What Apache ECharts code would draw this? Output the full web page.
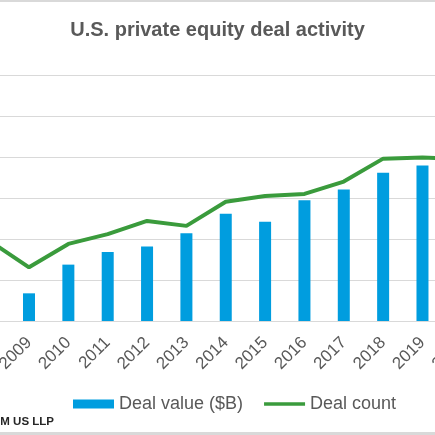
<!DOCTYPE html>
<html>
<head>
<meta charset="utf-8">
<script src="https://cdn.jsdelivr.net/npm/echarts@6/dist/echarts.min.js"></script>
<style>
  html, body { margin: 0; padding: 0; background: #fff; }
  #chart { width: 435px; height: 435px; }
</style>
</head>
<body>
<div id="chart"></div>
<script>
// years shown on the category axis (the plot runs past both edges of the crop)
var years = ['2008', '2009', '2010', '2011', '2012', '2013', '2014',
             '2015', '2016', '2017', '2018', '2019', '2020'];
// deal value, $B
var dealValue = [410, 135, 275, 337, 364, 428, 523, 484, 589, 642, 723, 758, 700];
// deal count
var dealCount = [1950, 1310, 1880, 2120, 2440, 2320, 2910, 3050, 3100, 3400, 3960, 3985, 3960];

var font = 'Liberation Sans, Arial, sans-serif';
var grey = '#595959';

var chart = echarts.init(document.getElementById('chart'));

var option = {
    backgroundColor: '#fff',
    animation: false,
    title: {
        text: 'U.S. private equity deal activity',
        left: 'center',
        top: 15,
        textStyle: { fontFamily: font, fontSize: 20, fontWeight: 'bold', color: grey }
    },
    legend: {
        left: 68,
        top: 390,
        itemWidth: 41,
        itemHeight: 9,
        itemGap: 21,
        textStyle: { fontFamily: font, fontSize: 18, color: grey },
        data: [
            { name: 'Deal value ($B)', icon: 'rect' },
            { name: 'Deal count', icon: 'path://M0,0H44V4H0Z', itemStyle: { color: '#3a9b3c' } }
        ]
    },
    // the crop cuts the plot on both sides, so the grid runs off the canvas
    grid: { left: -30, width: 511.5, top: 75, height: 246, outerBoundsMode: 'none', containLabel: false },
    xAxis: {
        type: 'category',
        data: years,
        axisLine: { lineStyle: { color: '#d9d9d9', width: 1 } },
        axisTick: { show: false },
        axisLabel: { rotate: 45, margin: 19, fontFamily: font, fontSize: 17, color: grey, interval: 0, hideOverlap: false }
    },
    yAxis: [{
        type: 'value',
        min: 0, max: 1200, interval: 200,
        axisLabel: { show: false },
        axisLine: { show: false },
        splitLine: { lineStyle: { color: '#d9d9d9', width: 1 } }
    }, {
        type: 'value',
        min: 0, max: 6000, interval: 1000,
        axisLabel: { show: false },
        axisLine: { show: false },
        splitLine: { show: false }
    }],
    series: [{
        name: 'Deal value ($B)',
        type: 'bar',
        data: dealValue,
        barWidth: 12,
        itemStyle: { color: '#009ddf' }
    }, {
        name: 'Deal count',
        type: 'line',
        yAxisIndex: 1,
        data: dealCount,
        symbol: 'none',
        lineStyle: { color: '#3a9b3c', width: 4 },
        itemStyle: { color: '#3a9b3c' }
    }],
    graphic: [
        // thin grey frame edges of the original chart box
        { type: 'rect', shape: { x: 0, y: 0, width: 435, height: 2 }, style: { fill: '#d9d9d9' } },
        { type: 'rect', shape: { x: 0, y: 432, width: 435, height: 3 }, style: { fill: '#d9d9d9' } },
        {
            type: 'text',
            style: {
                x: 54, y: 422, text: 'RSM US LLP',
                textAlign: 'right', textVerticalAlign: 'middle',
                fontFamily: font, fontSize: 11.5, fontWeight: 'bold', fill: '#262626'
            }
        }
    ]
};

chart.setOption(option);
</script>
</body>
</html>
